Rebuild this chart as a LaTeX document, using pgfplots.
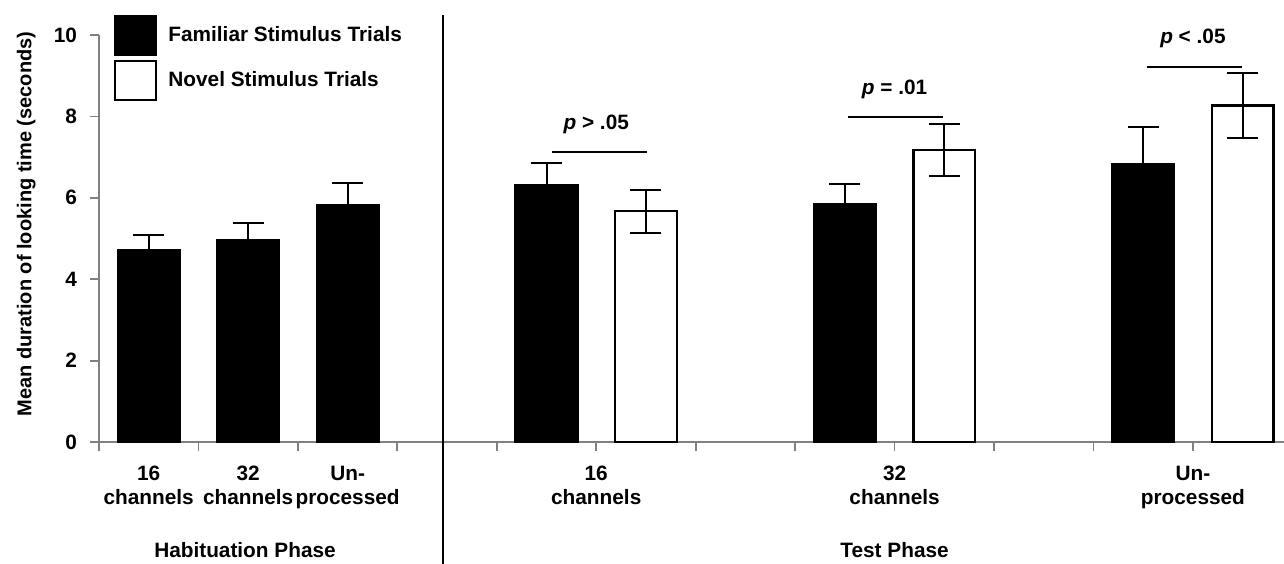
\documentclass[border=0pt]{standalone}
\usepackage{fontspec}
\setmainfont{Liberation Sans}
\usepackage{pgfplots}
\pgfplotsset{compat=1.18}
\definecolor{axgray}{HTML}{808080}
\begin{document}
\begin{tikzpicture}[font=\fontsize{10.4}{12}\selectfont\bfseries]
\begin{axis}[
  at={(49.5pt,60.5pt)}, anchor=south west,
  scale only axis, width=592.5pt, height=203.5pt,
  xmin=0, xmax=11.916, ymin=0, ymax=10,
  clip=false,
  axis x line=bottom, axis y line=left,
  axis line style={-, draw=axgray, line width=0.9pt},
  xtick={0,...,11}, xticklabels={},
  ytick={0,2,...,10},
  tick align=outside, major tick length=4.5pt,
  tick style={draw=axgray, line width=0.9pt},
  /pgf/number format/assume math mode=true,
  ticklabel style={font=\fontsize{10.4}{12}\selectfont\bfseries},
  yticklabel style={xshift=-3pt},
  extra x ticks={0.5,1.5,2.5,5,8,11},
  extra x tick labels={{16\\channels},{32\\channels},{Un-\\processed},{16\\channels},{32\\channels},{Un-\\processed}},
  extra x tick style={major tick length=0pt, tick style={draw=none},
    tick label style={align=center, yshift=-8.5pt}},
  legend style={at={(axis description cs:0,1)}, anchor=north west,
    xshift=7.5pt, yshift=10pt, draw=none, fill=none, inner sep=0pt,
    row sep=2pt, font=\fontsize{10.4}{12}\selectfont\bfseries,
    /tikz/every odd column/.append style={column sep=3.5pt}},
  legend cell align=left,
]
\addplot[ybar, bar width=0.62, bar shift=0pt, fill=black, draw=black, line width=1.2pt,
  legend image code/.code={\draw[fill=black, draw=black, line width=1pt] (0pt,-9.75pt) rectangle (20.5pt,9.75pt);},
  error bars/.cd, y dir=both, y explicit,
  error bar style={line width=1pt, black},
  error mark options={rotate=90, mark size=7.75pt, line width=1pt, black}]
coordinates {(0.5,4.71) +- (0,0.38) (1.5,4.95) +- (0,0.42) (2.5,5.81) +- (0,0.56)
             (4.5,6.31) +- (0,0.54) (7.5,5.84) +- (0,0.51) (10.5,6.82) +- (0,0.93)};
\addlegendentry{Familiar Stimulus Trials}
\addplot[ybar, bar width=0.62, bar shift=0pt, fill=white, draw=black, line width=1.2pt,
  legend image code/.code={\draw[fill=white, draw=black, line width=1pt] (0pt,-9.75pt) rectangle (20.5pt,9.75pt);},
  error bars/.cd, y dir=both, y explicit,
  error bar style={line width=1pt, black},
  error mark options={rotate=90, mark size=7.75pt, line width=1pt, black}]
coordinates {(5.5,5.67) +- (0,0.53) (8.5,7.17) +- (0,0.64) (11.5,8.27) +- (0,0.80)};
\addlegendentry{Novel Stimulus Trials}
\addplot[black, line width=1pt, forget plot] coordinates {(4.556,7.12) (5.51,7.12)};
\addplot[black, line width=1pt, forget plot] coordinates {(7.53,7.98) (8.49,7.98)};
\addplot[black, line width=1pt, forget plot] coordinates {(10.54,9.22) (11.49,9.22)};
\node at (axis cs:5,7.80) {\textit{p} > .05};
\node at (axis cs:8,8.66) {\textit{p} = .01};
\node at (axis cs:11,9.91) {\textit{p} < .05};
\draw[black, line width=1.1pt] (axis cs:3.459,10.48) -- (axis cs:3.459,-3.2);
\node at (axis cs:1.468,-2.65) {Habituation Phase};
\node at (axis cs:8,-2.65) {Test Phase};
\node[rotate=90, font=\fontsize{10}{12}\selectfont\bfseries] at (axis description cs:-0.0615,0.5356) {Mean duration of looking time (seconds)};
\end{axis}
\pgfresetboundingbox
\useasboundingbox (0,0) rectangle (642pt,281.5pt);
\end{tikzpicture}
\end{document}
